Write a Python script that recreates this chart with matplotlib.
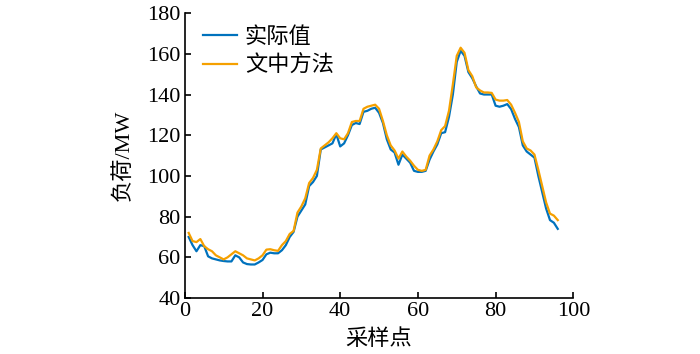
import matplotlib
matplotlib.use("Agg")
import matplotlib.pyplot as plt
import numpy as np

plt.rcParams['font.family'] = ['Liberation Serif', 'Noto Sans CJK SC', 'DejaVu Sans']

x = list(range(1, 97))
actual = [70, 66, 63, 66, 65.5, 60.5, 59.5, 59, 58.5, 58.2,
          58, 58, 61, 60, 57.5, 56.7, 56.5, 56.5, 57.5, 58.7,
          61.5, 62.3, 62, 62, 63.5, 66, 70, 72.5, 80, 83,
          86, 95, 97, 100, 113, 114, 115, 116, 120.5, 114.5,
          116, 120, 125, 126, 125.5, 131.5, 132, 133, 133.5, 131,
          126, 118, 113, 111.5, 105.5, 110.5, 108.5, 106.5, 102.5, 102,
          102, 102.5, 108, 112, 115.5, 121, 121.5, 129, 140, 156,
          161.5, 159, 151, 148, 144, 140.5, 140, 140, 140, 134.5,
          134, 134.5, 135.3, 132.8, 128, 124, 115, 112, 110.5, 109,
          100, 92, 84, 78.3, 77, 74]
method = [72, 68, 67.5, 69, 65.5, 64, 63, 61, 60, 59,
          60, 61.5, 63, 62, 61, 59.5, 59, 58.5, 59.5, 61,
          63.8, 64, 63.5, 63.2, 66, 68, 71.5, 73, 82, 85,
          89, 96.5, 99, 103, 113.5, 115, 116.5, 118.5, 121, 118.5,
          118, 121, 126.5, 127, 127, 133, 134, 134.5, 135, 133,
          127, 120, 115, 112.5, 108.5, 112, 109.5, 107.5, 105, 103,
          102.5, 103, 110, 113, 117, 122.5, 124.5, 132, 145, 159,
          163, 160.5, 152, 149, 143.5, 142, 141, 141, 140.8, 137.5,
          137, 137, 137.3, 135, 131, 126.5, 117, 113.5, 112.5, 110.5,
          103, 95, 87, 81.5, 80.5, 78.3]

labels = ['实际值', '文中方法']
xticks = [0, 20, 40, 60, 80, 100]
yticks = [40, 60, 80, 100, 120, 140, 160, 180]

fig = plt.figure(figsize=(7, 3.54), dpi=100)
ax = fig.add_axes([0.264, 0.158, 0.555, 0.805])
ax.plot(x, actual, color='#0072BD', lw=1.6, label=labels[0])
ax.plot(x, method, color='#F5A000', lw=1.6, label=labels[1])

ax.set_xlim(0, 100)
ax.set_ylim(40, 180)
ax.set_xticks(xticks)
ax.set_yticks(yticks)
ax.spines['top'].set_visible(False)
ax.spines['right'].set_visible(False)
for s in ['left', 'bottom']:
    ax.spines[s].set_linewidth(1.2)
ax.tick_params(direction='in', length=4, width=1.2, labelsize=16, pad=3)

ax.set_xlabel('采样点', family=['Noto Sans CJK SC'], fontsize=16, labelpad=4)
ax.set_ylabel('负荷/MW', family=['Liberation Serif', 'Noto Sans CJK SC'], fontsize=16, labelpad=10)

leg = ax.legend(loc='upper left', bbox_to_anchor=(0.023, 0.99), frameon=False,
                prop={'family': 'Noto Sans CJK SC', 'size': 16},
                handlelength=1.55, handletextpad=0.35, labelspacing=0.25, borderaxespad=0.0)

fig.savefig('out.png', dpi=100)
